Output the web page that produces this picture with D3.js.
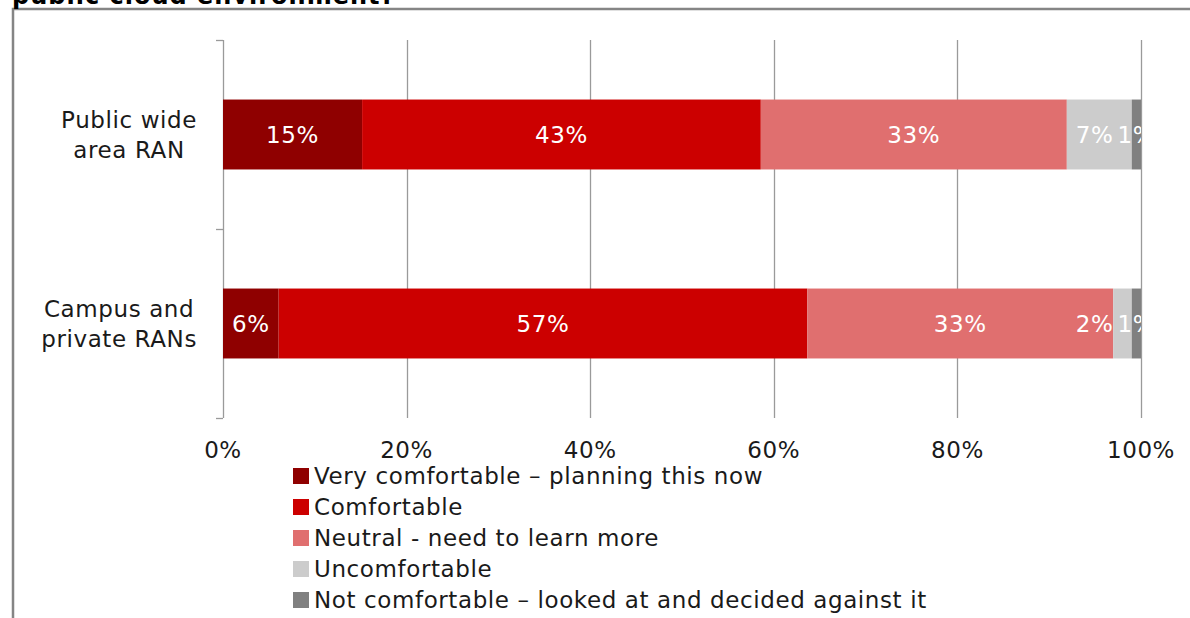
<!DOCTYPE html>
<html>
<head>
<meta charset="utf-8">
<script src="https://cdn.jsdelivr.net/npm/d3@7"></script>
<style>
  html, body { margin: 0; padding: 0; background: #fff; }
  svg { display: block; font-family: "DejaVu Sans", Verdana, sans-serif; }
</style>
</head>
<body>
<svg id="chart" width="1190" height="618"></svg>
<script>
// Survey categories (one bar each)
const categories = ["Public wide area RAN", "Campus and private RANs"];
const categoryLines = [["Public wide", "area RAN"], ["Campus and", "private RANs"]];

// Answer options (stack order, left to right)
const seriesNames = [
  "Very comfortable \u2013 planning this now",
  "Comfortable",
  "Neutral - need to learn more",
  "Uncomfortable",
  "Not comfortable \u2013 looked at and decided against it"
];
const seriesColors = ["#8f0000", "#cc0000", "#e06f6f", "#cccccc", "#808080"];

// Share of respondents (%) per category, same order as seriesNames
const veryComfortable = [15, 6];
const comfortable = [43, 57];
const neutral = [33, 33];
const uncomfortable = [7, 2];
const notComfortable = [1, 1];

const xTicks = [0, 0.2, 0.4, 0.6, 0.8, 1];
const title = "public cloud environment?";

const seriesValues = [veryComfortable, comfortable, neutral, uncomfortable, notComfortable];
const rows = categories.map((c, i) => {
  const r = { category: c };
  seriesNames.forEach((s, j) => { r[s] = seriesValues[j][i]; });
  return r;
});

const FS = 23;       // body text size
const LS = 0.6;      // letter spacing for body text

const svg = d3.select("#chart");
const margin = { left: 223, right: 1141, top: 40, bottom: 418 };

// Frame and heading (runs off the top edge)
svg.append("path")
  .attr("d", "M13,618 V9 H1190")
  .attr("fill", "none")
  .attr("stroke", "#858585")
  .attr("stroke-width", 2.5);
svg.append("text")
  .attr("x", 12).attr("y", 4)
  .attr("font-size", 24).attr("font-weight", "bold")
  .attr("letter-spacing", 1)
  .attr("fill", "#000")
  .text(title);

const x = d3.scaleLinear().domain([0, 1]).range([margin.left, margin.right]);
const y = d3.scaleBand().domain(categories).range([margin.top, margin.bottom]).paddingInner(0.63).paddingOuter(0.315);

// Vertical gridlines
svg.append("g").selectAll("line")
  .data(xTicks.slice(1))
  .join("line")
  .attr("x1", d => Math.round(x(d)) + 0.5).attr("x2", d => Math.round(x(d)) + 0.5)
  .attr("y1", margin.top).attr("y2", margin.bottom)
  .attr("stroke", "#9a9a9a").attr("stroke-width", 1.3);

// Category axis with band-boundary ticks
const yAxis = svg.append("g");
yAxis.append("line")
  .attr("x1", margin.left + 0.5).attr("x2", margin.left + 0.5)
  .attr("y1", margin.top).attr("y2", margin.bottom)
  .attr("stroke", "#9a9a9a").attr("stroke-width", 1.3);
const bounds = [margin.top, (margin.top + margin.bottom) / 2, margin.bottom];
yAxis.selectAll("line.tick").data(bounds).join("line")
  .attr("class", "tick")
  .attr("x1", margin.left - 7).attr("x2", margin.left)
  .attr("y1", d => d + 0.5).attr("y2", d => d + 0.5)
  .attr("stroke", "#9a9a9a").attr("stroke-width", 1.3);

// Stacked 100% bars
const stack = d3.stack().keys(seriesNames).offset(d3.stackOffsetExpand);
const layers = stack(rows);
const color = d3.scaleOrdinal().domain(seriesNames).range(seriesColors);

svg.append("defs").append("clipPath").attr("id", "plotClip")
  .append("rect")
  .attr("x", margin.left).attr("y", margin.top)
  .attr("width", margin.right - margin.left).attr("height", margin.bottom - margin.top);

const barG = svg.append("g");
barG.selectAll("g").data(layers).join("g")
  .attr("fill", d => color(d.key))
  .selectAll("rect").data(d => d).join("rect")
  .attr("x", d => x(d[0]))
  .attr("width", d => x(d[1]) - x(d[0]))
  .attr("y", d => y(d.data.category))
  .attr("height", y.bandwidth());

// Value labels inside segments; crowded labels are nudged left
const labelG = svg.append("g").attr("clip-path", "url(#plotClip)");
categories.forEach((c, i) => {
  const cy = y(c) + y.bandwidth() / 2;
  const labels = layers.map(layer => {
    const d = layer[i];
    const t = labelG.append("text")
      .attr("y", cy).attr("dy", "0.36em")
      .attr("text-anchor", "middle")
      .attr("font-size", FS).attr("letter-spacing", LS)
      .attr("fill", "#fff")
      .text(d.data[layer.key] + "%");
    return { t, cx: (x(d[0]) + x(d[1])) / 2, w: t.node().getComputedTextLength() };
  });
  let limit = Infinity;
  for (let k = labels.length - 1; k >= 0; k--) {
    const L = labels[k];
    if (L.cx + L.w / 2 > limit - 4) L.cx = limit - 4 - L.w / 2;
    L.t.attr("x", L.cx);
    limit = L.cx - L.w / 2;
  }
});

// Category labels, lines centered within a right-aligned block
categories.forEach((c, i) => {
  const cy = y(c) + y.bandwidth() / 2;
  const t = svg.append("text")
    .attr("font-size", FS).attr("letter-spacing", LS).attr("fill", "#1a1a1a")
    .attr("text-anchor", "middle");
  const spans = categoryLines[i].map((line, k) =>
    t.append("tspan").attr("y", cy - 15 + k * 30).attr("dy", "0.36em").text(line));
  const w = d3.max(spans, s => s.node().getComputedTextLength());
  spans.forEach(s => s.attr("x", 197 - w / 2));
});

// Percentage tick labels
svg.append("g").selectAll("text")
  .data(xTicks)
  .join("text")
  .attr("x", d => x(d))
  .attr("y", 450)
  .attr("dy", "0.36em")
  .attr("text-anchor", "middle")
  .attr("font-size", FS).attr("letter-spacing", LS).attr("fill", "#1a1a1a")
  .text(d3.format(".0%"));

// Legend
const legend = svg.append("g");
seriesNames.forEach((s, i) => {
  const ly = 476 + i * 31;
  legend.append("rect")
    .attr("x", 293).attr("y", ly - 8)
    .attr("width", 16).attr("height", 16)
    .attr("fill", color(s));
  legend.append("text")
    .attr("x", 314).attr("y", ly)
    .attr("dy", "0.36em")
    .attr("font-size", FS).attr("letter-spacing", LS).attr("fill", "#1a1a1a")
    .text(s);
});
</script>
</body>
</html>
